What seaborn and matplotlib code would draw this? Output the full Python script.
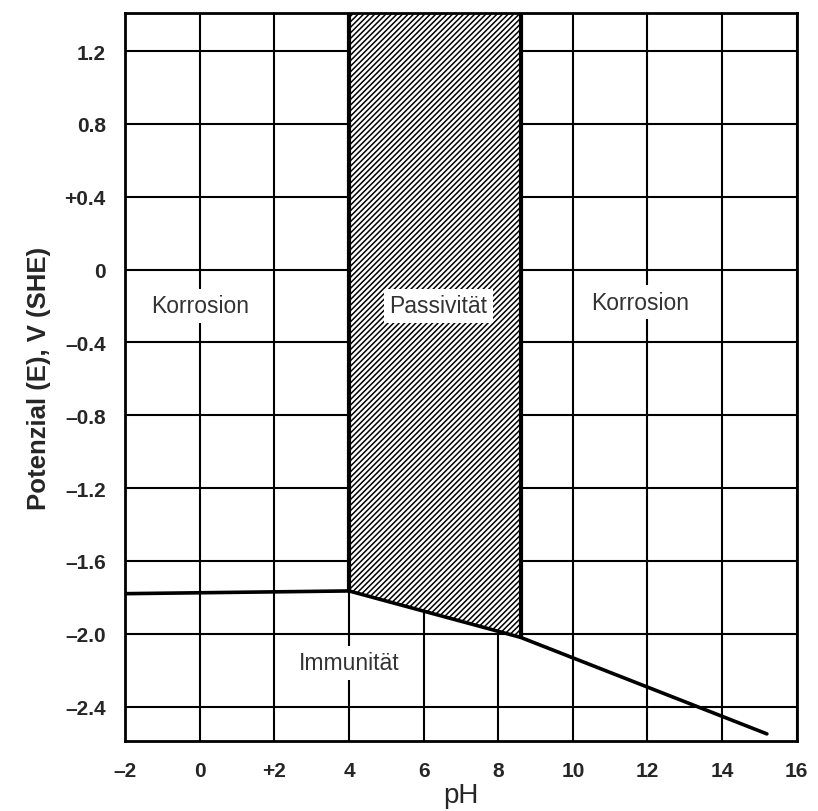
import matplotlib
matplotlib.use("Agg")
import matplotlib.pyplot as plt
import seaborn as sns
import pandas as pd

# Data
boundary_ph = [-2.0, 4.0, 8.6, 15.2]
boundary_e = [-1.78, -1.765, -2.02, -2.55]
passive_ph = [4.0, 8.6]
passive_bottom = [-1.765, -2.02]
x_ticks = [-2, 0, 2, 4, 6, 8, 10, 12, 14, 16]
x_ticklabels = ["–2", "0", "+2", "4", "6", "8", "10", "12", "14", "16"]
y_ticks = [1.2, 0.8, 0.4, 0.0, -0.4, -0.8, -1.2, -1.6, -2.0, -2.4]
y_ticklabels = ["1.2", "0.8", "+0.4", "0", "–0.4", "–0.8", "–1.2", "–1.6", "–2.0", "–2.4"]
region_labels = ["Korrosion", "Passivität", "Korrosion", "Immunität"]
region_x = [0.0, 6.4, 11.8, 4.0]
region_y = [-0.2, -0.2, -0.18, -2.16]

sns.set_style("white")
plt.rcParams['font.family'] = ['Liberation Sans', 'DejaVu Sans']
plt.rcParams['hatch.linewidth'] = 1.1

fig = plt.figure(figsize=(8.18, 8.12), dpi=100)
ax = fig.add_axes([0.153, 0.086, 0.821, 0.897])

ylim = (-2.59, 1.41)
ax.set_xlim(-2, 16)
ax.set_ylim(*ylim)

# grid
ax.set_xticks(x_ticks)
ax.set_xticklabels(x_ticklabels)
ax.set_yticks(y_ticks)
ax.set_yticklabels(y_ticklabels)
ax.grid(True, color="black", linewidth=1.5, zorder=0)
ax.set_axisbelow(True)

# passive region (hatched)
ax.fill_between(passive_ph, passive_bottom, [ylim[1], ylim[1]], facecolor="white",
                edgecolor="black", hatch="//////", linewidth=0, zorder=2)
for xv, yb in zip(passive_ph, passive_bottom):
    ax.plot([xv, xv], [yb, ylim[1]], color="black", linewidth=3, zorder=3)

df = pd.DataFrame({"pH": boundary_ph, "E": boundary_e})
sns.lineplot(data=df, x="pH", y="E", color="black", linewidth=2.6, ax=ax, zorder=4)

for t, xv, yv in zip(region_labels, region_x, region_y):
    ax.text(xv, yv, t, ha="center", va="center", fontsize=16.5, color="#333333",
            bbox=dict(facecolor="white", edgecolor="none", pad=4), zorder=5)

for s in ax.spines.values():
    s.set_color("black")
    s.set_linewidth(2)

ax.tick_params(axis="both", length=0, labelsize=15)
ax.tick_params(axis="y", pad=14)
ax.tick_params(axis="x", pad=14)
for lab in ax.get_xticklabels() + ax.get_yticklabels():
    lab.set_fontweight("bold")
ax.set_xlabel("pH", fontsize=20, labelpad=2)
ax.set_ylabel("Potenzial (E), V (SHE)", fontsize=18.5, fontweight="bold", labelpad=10)

fig.savefig("out.png", dpi=100, facecolor="white")
